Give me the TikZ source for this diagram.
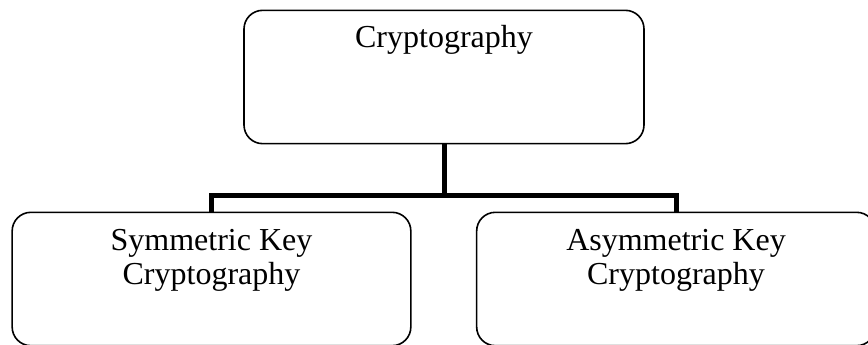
\documentclass[tikz,border=0pt]{standalone}
\usepackage{fontspec}
\setmainfont{Liberation Serif}

\begin{document}
\begin{tikzpicture}[x=0.75pt,y=-0.75pt,
  box/.style={draw,line width=1.2pt,rounded corners=14pt,inner sep=0pt,
    minimum width=299pt,minimum height=100pt},
  boxtext/.style={font=\fontsize{24}{25}\selectfont,align=center,anchor=base},
  branch/.style={line width=3.75pt}]
  \useasboundingbox (0,0) rectangle (868,345);
  % boxes
  \node[box,minimum width=300pt] (crypto) at (444,77) {};
  \node[box] (sym) at (211.5,279) {};
  \node[box] (asym) at (676,279) {};
  % labels near the top of each box (base = last line)
  \node[boxtext] (crypto-text) at ([yshift=-28.5pt]crypto.north) {Cryptography};
  \node[boxtext] (sym-text) at ([yshift=-54.5pt]sym.north) {Symmetric Key\\Cryptography};
  \node[boxtext] (asym-text) at ([yshift=-54.5pt]asym.north) {Asymmetric Key\\Cryptography};
  % tree connector
  \coordinate (fork) at (444,196);
  \draw[branch] (crypto.south) -- (fork);
  \draw[branch] (sym.north) -- (sym.north |- fork) -- (asym.north |- fork)
    -- (asym.north);
\end{tikzpicture}
\end{document}
